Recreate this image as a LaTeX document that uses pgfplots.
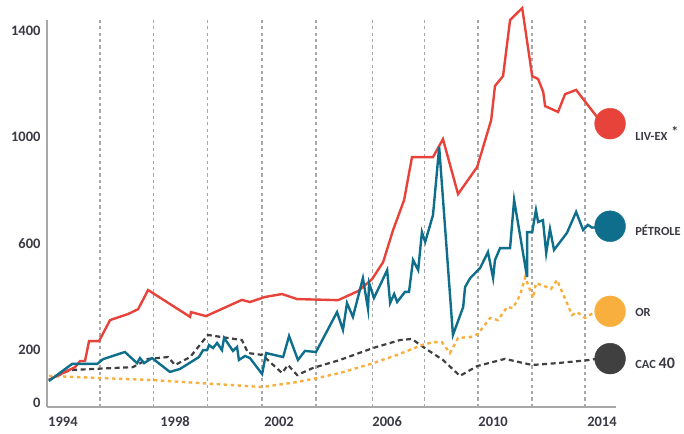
\documentclass[border=0pt]{standalone}
\usepackage{pgfplots}
\pgfplotsset{compat=1.18}
\usepackage{fontspec}
\setmainfont{Carlito}
\definecolor{livex}{HTML}{E8433A}
\definecolor{petrole}{HTML}{0F6E8C}
\definecolor{orr}{HTML}{F9AF3E}
\definecolor{cac}{HTML}{404040}
\definecolor{gridg}{HTML}{A8A8A8}
\definecolor{txt}{HTML}{3A3A44}
\begin{document}
\begin{tikzpicture}[x=1pt,y=1pt]
\path[use as bounding box] (0,0) rectangle (684,433);
\begin{axis}[
  at={(47pt,26pt)}, anchor=south west,
  scale only axis, width=569pt, height=387pt,
  xmin=1993.93, xmax=2015.04, ymin=-15, ymax=1441,
  clip=false,
  axis x line*=bottom, axis y line*=left,
  axis line style={gridg, line width=2.2pt, -},
  xtick={1994.52,1998.68,2002.54,2006.55,2010.48,2014.52},
  xticklabels={1994,1998,2002,2006,2010,2014},
  ytick={0,200,600,1000,1400},
  yticklabels={0,200,600,1000,1400},
  major tick length=0pt,
  tick style={draw=none},
  tick label style={font=\fontsize{14.5}{16}\selectfont\bfseries, text=txt},
  xticklabel style={yshift=-6pt},
  yticklabel style={xshift=-3pt},
  extra x ticks={1995.9,1997.88,1999.88,2001.91,2003.91,2006.0,2007.93,2009.93,2011.93,2013.89},
  extra x tick labels={},
  extra x tick style={grid=major, major grid style={gridg, line width=1.6pt, dash pattern=on 3.2pt off 3.2pt}},
]
% CAC 40
\addplot[cac, line width=2.2pt, dash pattern=on 5pt off 3.5pt] coordinates {
(1994.0,87)(1994.78,124)(1997.12,135)(1997.68,166)(1998.42,173)(1998.68,143)(1999.24,173)(1999.9,256)(2000.42,248)(2001.16,237)(2001.39,188)(2001.91,181)(2002.65,113)(2002.87,143)(2003.21,105)(2003.8,132)(2004.8,162)(2006.03,207)(2007.03,237)(2007.47,241)(2007.88,211)(2008.62,162)(2009.25,102)(2009.89,139)(2010.92,166)(2011.93,143)(2012.85,150)(2014.08,162)(2014.45,169)
};
% OR
\addplot[orr, line width=2.4pt, dash pattern=on 3.5pt off 3.5pt] coordinates {
(1994.0,102)(1995.9,94)(1997.75,87)(1999.6,75)(2000.72,68)(2001.91,60)(2003.21,79)(2003.95,94)(2004.8,113)(2006.03,150)(2006.92,181)(2007.84,218)(2008.25,229)(2008.58,229)(2008.88,188)(2009.18,245)(2009.63,248)(2009.92,260)(2010.37,320)(2010.66,312)(2011.0,361)(2011.22,357)(2011.48,406)(2011.67,474)(2011.96,395)(2012.07,451)(2012.48,436)(2012.63,429)(2012.85,463)(2013.41,331)(2013.6,342)(2013.89,320)(2014.19,339)(2014.45,346)
};
% LIV-EX
\addplot[livex, line width=2.4pt] coordinates {
(1994.0,87)(1994.97,135)(1995.16,158)(1995.34,158)(1995.49,233)(1995.86,233)(1996.27,312)(1996.94,335)(1997.31,353)(1997.68,425)(1999.24,324)(1999.27,342)(1999.83,327)(2001.16,388)(2001.46,380)(2002.02,399)(2002.65,410)(2003.21,391)(2004.73,387)(2005.47,421)(2005.99,466)(2006.4,530)(2006.77,651)(2007.18,764)(2007.47,925)(2008.25,925)(2008.62,993)(2009.18,786)(2009.89,888)(2010.11,963)(2010.41,1065)(2010.55,1193)(2010.85,1230)(2011.11,1441)(2011.56,1486)(2011.93,1230)(2012.15,1219)(2012.34,1170)(2012.41,1117)(2012.89,1095)(2013.15,1162)(2013.56,1178)(2014.45,1061)
};
% PETROLE
\addplot[petrole, line width=2.4pt] coordinates {
(1994.0,83)(1994.86,147)(1995.79,147)(1996.01,165)(1996.82,192)(1997.27,150)(1997.38,169)(1997.53,150)(1997.83,169)(1998.49,117)(1998.86,128)(1999.57,173)(1999.72,199)(1999.87,199)(1999.94,218)(2000.09,207)(2000.24,226)(2000.42,199)(2000.5,245)(2000.83,196)(2000.98,211)(2001.05,162)(2001.28,177)(2001.46,169)(2001.91,109)(2002.06,188)(2002.69,173)(2002.91,252)(2003.24,162)(2003.5,196)(2003.91,192)(2004.69,342)(2004.91,275)(2005.06,376)(2005.28,324)(2005.65,470)(2005.84,354)(2005.88,451)(2006.06,395)(2006.55,500)(2006.66,376)(2006.81,410)(2006.92,380)(2007.21,418)(2007.36,418)(2007.51,538)(2007.7,500)(2007.84,643)(2007.96,606)(2008.25,707)(2008.48,963)(2008.99,256)(2009.37,361)(2009.44,436)(2009.63,470)(2010.0,508)(2010.29,568)(2010.48,470)(2010.55,538)(2010.74,583)(2011.11,583)(2011.26,764)(2011.74,474)(2011.74,643)(2011.93,643)(2012.07,726)(2012.15,681)(2012.33,688)(2012.45,564)(2012.59,655)(2012.74,576)(2013.22,640)(2013.56,719)(2013.82,651)(2014.0,670)(2014.15,660)(2014.45,662)
};
% end circles
\addplot[only marks, mark=*, mark size=15.4pt, livex, mark options={draw=none, fill=livex}] coordinates {(2014.82,1051)};
\addplot[only marks, mark=*, mark size=15.4pt, petrole, mark options={draw=none, fill=petrole}] coordinates {(2014.82,665)};
\addplot[only marks, mark=*, mark size=15.4pt, orr, mark options={draw=none, fill=orr}] coordinates {(2014.82,345)};
\addplot[only marks, mark=*, mark size=15.4pt, cac, mark options={draw=none, fill=cac}] coordinates {(2014.82,167)};
% labels
\node[anchor=west, inner sep=0pt, text=txt, font=\fontsize{12.4}{14}\selectfont\bfseries] at (axis cs:2015.75,1015) {LIV-EX\hspace{4pt}\raisebox{4pt}{\fontsize{14}{14}\selectfont *}};
\node[anchor=west, inner sep=0pt, text=txt, font=\fontsize{12.4}{14}\selectfont\bfseries] at (axis cs:2015.75,648) {PÉTROLE};
\node[anchor=west, inner sep=0pt, text=txt, font=\fontsize{12.4}{14}\selectfont\bfseries] at (axis cs:2015.75,341) {OR};
\node[anchor=west, inner sep=0pt, text=txt, font=\fontsize{12.4}{14}\selectfont\bfseries] at (axis cs:2015.75,149) {CAC {\fontsize{16}{16}\selectfont 40}};
\end{axis}
\end{tikzpicture}
\end{document}
